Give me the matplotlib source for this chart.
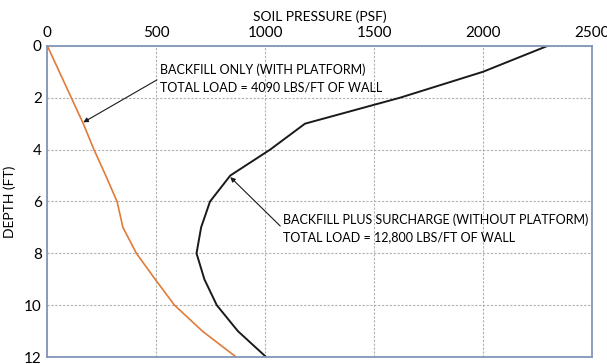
import numpy as np
from matplotlib import pyplot as plt

plt.rcParams['font.family'] = ['Lato', 'DejaVu Sans']

depth = [0, 1, 2, 3, 4, 5, 6, 7, 8, 9, 10, 11, 12]
backfill_only = [0, 55, 110, 165, 214, 268, 320, 347, 409, 495, 584, 712, 867]
backfill_surcharge = [2297, 2000, 1619, 1183, 1023, 840, 747, 706, 685, 721, 778, 875, 1005]

x_ticks = [0, 500, 1000, 1500, 2000, 2500]
y_ticks = [0, 2, 4, 6, 8, 10, 12]

label_only = 'BACKFILL ONLY (WITH PLATFORM)\nTOTAL LOAD = 4090 LBS/FT OF WALL'
label_surcharge = 'BACKFILL PLUS SURCHARGE (WITHOUT PLATFORM)\nTOTAL LOAD = 12,800 LBS/FT OF WALL'

fig = plt.figure(figsize=(6.07, 3.64), dpi=100)
ax = fig.add_axes([0.078, 0.019, 0.897, 0.855])

ax.plot(backfill_only, depth, color='#e07b39', lw=1.2)
ax.plot(backfill_surcharge, depth, color='#1a1a1a', lw=1.4)

ax.set_xlim(0, 2500)
ax.set_ylim(12, 0)
ax.set_xticks(x_ticks)
ax.set_yticks(y_ticks)
ax.xaxis.tick_top()
ax.xaxis.set_label_position('top')
ax.set_xlabel('SOIL PRESSURE (PSF)', fontsize=10, labelpad=4)
ax.set_ylabel('DEPTH (FT)', fontsize=10, labelpad=6)
ax.tick_params(axis='both', labelsize=11, length=0, pad=4)

ax.grid(True, color='#b0b0b0', linestyle=(0, (2, 1.5)), lw=0.8)
for s in ax.spines.values():
    s.set_color('#8296b8')
    s.set_linewidth(1.3)

ax.annotate(label_only, xy=(165, 2.95), xytext=(516, 1.25),
            fontsize=9, va='center', ha='left', linespacing=1.5,
            arrowprops=dict(arrowstyle='-|>', color='#1a1a1a', lw=0.8,
                            mutation_scale=7, shrinkA=0, shrinkB=0,
                            relpos=(0, 0.5)))
ax.annotate(label_surcharge, xy=(840, 5.06), xytext=(1082, 7.05),
            fontsize=9, va='center', ha='left', linespacing=1.5,
            arrowprops=dict(arrowstyle='-|>', color='#1a1a1a', lw=0.8,
                            mutation_scale=7, shrinkA=0, shrinkB=0,
                            relpos=(0, 0.5)))

plt.savefig('out.png', dpi=100)
plt.close()
